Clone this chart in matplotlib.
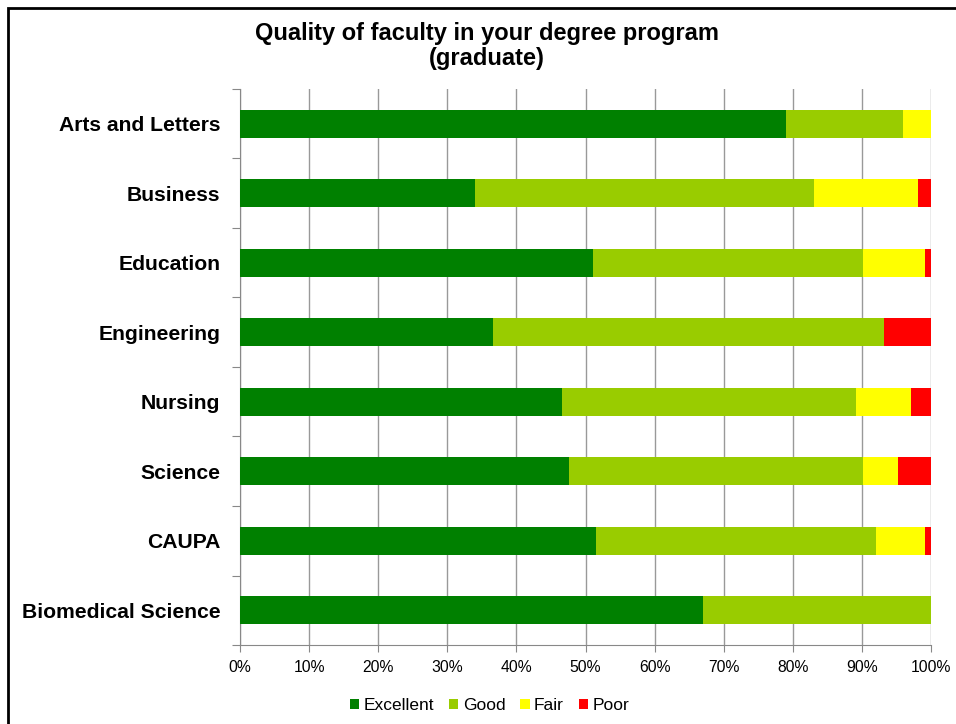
import matplotlib
matplotlib.use("Agg")
import matplotlib.pyplot as plt
import numpy as np
from matplotlib.patches import Rectangle

plt.rcParams['font.family'] = ['Liberation Sans', 'DejaVu Sans']

categories = ['Arts and Letters', 'Business', 'Education', 'Engineering',
              'Nursing', 'Science', 'CAUPA', 'Biomedical Science']
excellent = [79.0, 34.0, 51.1, 36.6, 46.6, 47.6, 51.5, 67.0]
good = [17.0, 49.1, 39.0, 56.6, 42.5, 42.5, 40.5, 33.0]
fair = [4.0, 15.0, 9.0, 0.0, 8.0, 5.1, 7.1, 0.0]
poor = [0.0, 1.9, 0.9, 6.8, 2.9, 4.8, 0.9, 0.0]

series = ['Excellent', 'Good', 'Fair', 'Poor']
colors = ['#008000', '#99CC00', '#FFFF00', '#FF0000']

fig = plt.figure(figsize=(9.56, 7.24), dpi=100)
ax = fig.add_axes([0.2510, 0.1091, 0.9739 - 0.2510, 0.8771 - 0.1091])

y = np.arange(len(categories))
left = np.zeros(len(categories))
for vals, name, col in zip([excellent, good, fair, poor], series, colors):
    ax.barh(y, np.array(vals) / 100, left=left, height=0.4, color=col,
            label=name, zorder=3)
    left += np.array(vals) / 100

ax.set_xlim(0, 1)
ax.set_ylim(len(categories) - 0.5, -0.5)

# x axis
ax.set_xticks(np.linspace(0, 1, 11))
ax.set_xticklabels([f'{i * 10}%' for i in range(11)], fontsize=11.3)
ax.tick_params(axis='x', direction='out', length=5, color='#888888', pad=6)
ax.grid(axis='x', color='#999999', linewidth=1, zorder=0)

# y axis: ticks at boundaries, labels at centres
ax.set_yticks(np.arange(len(categories) + 1) - 0.5)
ax.set_yticklabels([])
ax.set_yticks(y, minor=True)
ax.set_yticklabels(categories, minor=True, fontsize=15.2, fontweight='bold')
ax.tick_params(axis='y', which='major', direction='out', length=6, color='#888888')
ax.tick_params(axis='y', which='minor', length=0, pad=14)

for s in ['top', 'right']:
    ax.spines[s].set_visible(False)
for s in ['left', 'bottom']:
    ax.spines[s].set_color('#888888')

fig.text(0.509, 0.97, 'Quality of faculty in your degree program\n(graduate)',
         ha='center', va='top', fontsize=17, fontweight='bold', linespacing=1.12)

fig.legend(loc='center', bbox_to_anchor=(0.512, 0.025), ncol=4, frameon=False,
           fontsize=12.5, handlelength=0.55, handleheight=0.55, handletextpad=0.25,
           columnspacing=0.85)

fig.patches.append(Rectangle((8 / 956, -0.2), 1.5, 1.2 - 8 / 724,
                             transform=fig.transFigure, fill=False,
                             edgecolor='black', linewidth=2))

fig.savefig('out.png', dpi=100)
